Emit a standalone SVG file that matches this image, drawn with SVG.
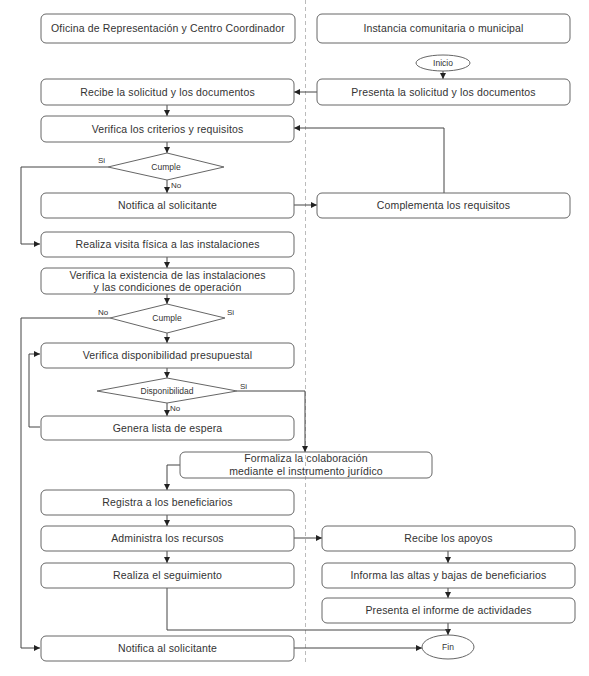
<svg xmlns="http://www.w3.org/2000/svg" width="589" height="676" viewBox="0 0 589 676">
<defs>
<marker id="ah" viewBox="0 0 6 6" refX="6" refY="3" markerWidth="6" markerHeight="6" orient="auto" markerUnits="userSpaceOnUse"><path d="M0,0 L6,3 L0,6 z" fill="#222"/></marker>
<style>
.box{fill:#fff;stroke:#666;stroke-width:1}
.t{font-family:"Liberation Sans",Arial,sans-serif;font-size:10.5px;letter-spacing:0.15px;fill:#333;text-anchor:middle}
.s{font-family:"Liberation Sans",Arial,sans-serif;font-size:8.5px;fill:#333;text-anchor:middle}
.l{font-family:"Liberation Sans",Arial,sans-serif;font-size:8px;fill:#333}
.c{fill:none;stroke:#444;stroke-width:1}
.ca{fill:none;stroke:#444;stroke-width:1;marker-end:url(#ah)}
</style>
</defs>
<rect width="589" height="676" fill="#fff"/>
<line x1="305.5" y1="0" x2="305.5" y2="662" stroke="#bbb" stroke-width="1" stroke-dasharray="4,3"/>

<g id="connectors">
<path class="ca" d="M443,71 V79"/>
<path class="ca" d="M317,92 H294"/>
<path class="ca" d="M167,105 V116"/>
<path class="ca" d="M444,193 V128 H294"/>
<path class="ca" d="M167,142 V153"/>
<path class="ca" d="M167,180 V193"/>
<path class="ca" d="M108,167 H21 V244 H40"/>
<path class="ca" d="M294,205 H317"/>
<path class="ca" d="M167,257 V268"/>
<path class="ca" d="M167,294 V304"/>
<path class="ca" d="M167,333 V343"/>
<path class="ca" d="M110,318 H21 V648 H40"/>
<path class="ca" d="M167,368 V378"/>
<path class="ca" d="M167,403 V416"/>
<path class="ca" d="M40,427 H29 V354 H40"/>
<path class="ca" d="M237,391 H305 V452"/>
<path class="ca" d="M180,465 H167 V490"/>
<path class="ca" d="M167,515 V526"/>
<path class="ca" d="M167,551 V563"/>
<path class="ca" d="M294,538 H322"/>
<path class="ca" d="M448,551 V563"/>
<path class="ca" d="M448,588 V598"/>
<path class="ca" d="M448,623 V635"/>
<path class="c" d="M167,588 V630 H448"/>
<path class="ca" d="M294,648 H422"/>
<text class="l" x="98" y="163">Si</text>
<text class="l" x="171" y="188">No</text>
<text class="l" x="98" y="315">No</text>
<text class="l" x="227" y="315">Si</text>
<text class="l" x="240" y="389">Si</text>
<text class="l" x="170" y="411">No</text>
</g>

<g id="h1"><rect class="box" x="41" y="14" width="254" height="29" rx="5"/><text class="t" x="168" y="32">Oficina de Representación  y Centro Coordinador</text></g>
<g id="h2"><rect class="box" x="317" y="14" width="253" height="29" rx="5"/><text class="t" x="443.5" y="32">Instancia comunitaria o municipal</text></g>
<g id="inicio"><ellipse cx="443" cy="63" rx="27" ry="8" fill="#fff" stroke="#666"/><text class="s" x="443" y="66">Inicio</text></g>
<g id="presenta"><rect class="box" x="317" y="79" width="253" height="26" rx="5"/><text class="t" x="443.5" y="95.5">Presenta la solicitud y los documentos</text></g>
<g id="recibe"><rect class="box" x="41" y="79" width="253" height="26" rx="5"/><text class="t" x="167.5" y="95.5">Recibe la solicitud y los documentos</text></g>
<g id="verifica1"><rect class="box" x="41" y="116" width="253" height="26" rx="5"/><text class="t" x="167.5" y="132.5">Verifica los criterios y requisitos</text></g>
<g id="cumple1"><polygon points="167,153 224,167 167,180 108,167" fill="#fff" stroke="#666"/><text class="s" x="166" y="170">Cumple</text></g>
<g id="notifica1"><rect class="box" x="41" y="193" width="253" height="25" rx="5"/><text class="t" x="167.5" y="209">Notifica al solicitante</text></g>
<g id="complementa"><rect class="box" x="317" y="193" width="253" height="25" rx="5"/><text class="t" x="443.5" y="209">Complementa los requisitos</text></g>
<g id="visita"><rect class="box" x="41" y="232" width="253" height="25" rx="5"/><text class="t" x="167.5" y="248">Realiza visita física a las instalaciones</text></g>
<g id="existencia"><rect class="box" x="41" y="268" width="253" height="26" rx="5"/><text class="t" x="167.5" y="279">Verifica la existencia de las instalaciones</text><text class="t" x="167.5" y="291">y las condiciones de operación</text></g>
<g id="cumple2"><polygon points="167,304 225,318 167,333 110,318" fill="#fff" stroke="#666"/><text class="s" x="167" y="321">Cumple</text></g>
<g id="disp"><rect class="box" x="41" y="343" width="253" height="25" rx="5"/><text class="t" x="167.5" y="359">Verifica disponibilidad presupuestal</text></g>
<g id="disponibilidad"><polygon points="167,378 237,391 167,403 97,391" fill="#fff" stroke="#666"/><text class="s" x="167" y="394">Disponibilidad</text></g>
<g id="genera"><rect class="box" x="41" y="416" width="253" height="24" rx="5"/><text class="t" x="167.5" y="431.5">Genera lista de espera</text></g>
<g id="formaliza"><rect x="180" y="452" width="252" height="26" rx="5" fill="none" stroke="#666"/><text class="t" x="306" y="462">Formaliza la colaboración</text><text class="t" x="306" y="475">mediante el instrumento jurídico</text></g>
<g id="registra"><rect class="box" x="41" y="490" width="253" height="25" rx="5"/><text class="t" x="167.5" y="506">Registra a los beneficiarios</text></g>
<g id="administra"><rect class="box" x="41" y="526" width="253" height="25" rx="5"/><text class="t" x="167.5" y="542">Administra los recursos</text></g>
<g id="seguimiento"><rect class="box" x="41" y="563" width="253" height="25" rx="5"/><text class="t" x="167.5" y="579">Realiza el seguimiento</text></g>
<g id="notifica2"><rect class="box" x="41" y="636" width="253" height="25" rx="5"/><text class="t" x="167.5" y="652">Notifica al solicitante</text></g>
<g id="apoyos"><rect class="box" x="322" y="526" width="253" height="25" rx="5"/><text class="t" x="448.5" y="542">Recibe los apoyos</text></g>
<g id="informa"><rect class="box" x="322" y="563" width="253" height="25" rx="5"/><text class="t" x="448.5" y="579">Informa las altas y bajas de beneficiarios</text></g>
<g id="informe"><rect class="box" x="322" y="598" width="253" height="25" rx="5"/><text class="t" x="448.5" y="614">Presenta el informe de actividades</text></g>
<g id="fin"><ellipse cx="448" cy="647" rx="26" ry="12" fill="#fff" stroke="#666"/><text class="s" x="448" y="650">Fin</text></g>
</svg>
